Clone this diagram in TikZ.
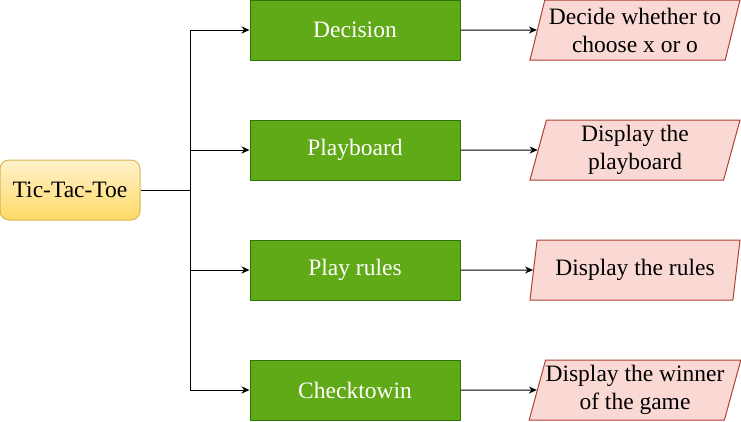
\documentclass[tikz,border=0pt]{standalone}
\usepackage{fontspec}
\setmainfont{Liberation Serif}
\usetikzlibrary{shapes.geometric,arrows.meta}
\definecolor{rootTop}{HTML}{FFF2CC}
\definecolor{rootBot}{HTML}{FFD966}
\definecolor{rootLine}{HTML}{D6B656}
\definecolor{modFill}{HTML}{60A917}
\definecolor{modLine}{HTML}{2D7600}
\definecolor{outFill}{HTML}{FAD9D5}
\definecolor{outLine}{HTML}{AE4132}
\begin{document}
\begin{tikzpicture}[x=1pt, y=-1pt, font=\fontsize{23.5}{28}\selectfont,
    root/.style={draw=rootLine, line width=1pt, rounded corners=9pt, top color=rootTop, bottom color=rootBot, minimum width=140pt, minimum height=60pt, inner sep=0pt},
    module/.style={draw=modLine, line width=1pt, fill=modFill, text=white, minimum width=210pt, minimum height=60pt, inner sep=0pt},
    output/.style={trapezium, trapezium left angle=71.6, trapezium right angle=108.4, trapezium stretches body, draw=outLine, line width=1pt, fill=outFill, minimum width=210pt, minimum height=60pt, inner sep=0pt, align=center},
    conn/.style={-{Stealth[length=8pt,width=7pt]}, line width=1pt}]
    \useasboundingbox (0,0) rectangle (741,421);
    \node[root] (ttt) at (70,190) {Tic-Tac-Toe};
    \node[module] (dec) at (355,30) {Decision};
    \node[module] (board) at (355,150) {Playboard};
    \node[module] (rules) at (355,270) {Play rules};
    \node[module] (win) at (355,390) {Checktowin};
    \node[output] (decOut) at (635,30) {Decide whether to\\choose x or o};
    \node[output] (boardOut) at (635,150) {Display the\\playboard};
    \node[output] (rulesOut) at (635,270) {Display the rules};
    \node[output] (winOut) at (635,390) {Display the winner\\of the game};
    \coordinate (fork) at (190,190);
    \draw[line width=1pt] (ttt) -- (fork);
    \foreach \m in {dec,board,rules,win}
        \draw[conn] (fork) |- (\m.west);
    \foreach \m in {dec,board,rules,win}
        \draw[conn] (\m) -- (\m Out);
\end{tikzpicture}
\end{document}
